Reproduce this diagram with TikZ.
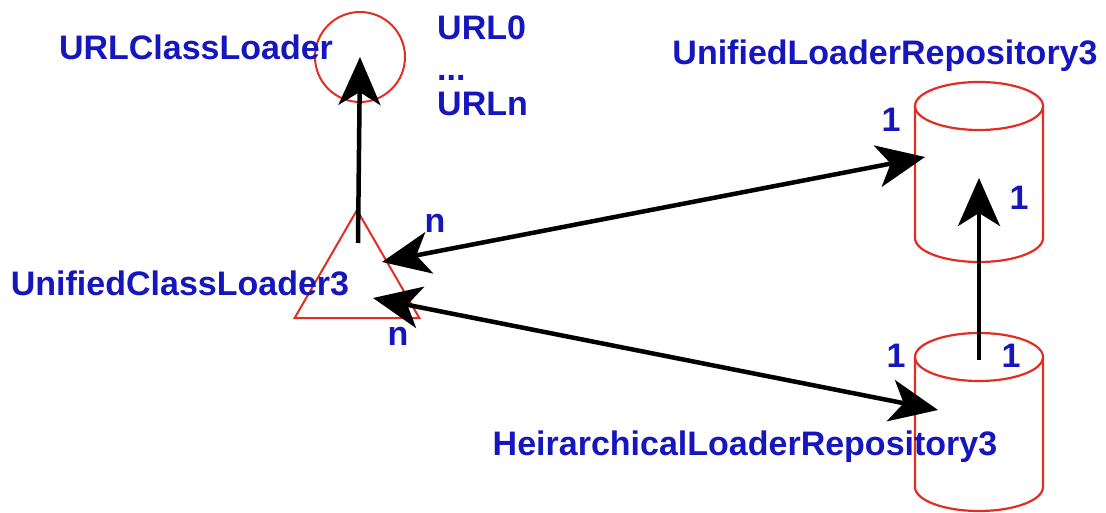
\documentclass[tikz,border=0pt]{standalone}
\usepackage{fontspec}
\setmainfont{Liberation Sans}
\usetikzlibrary{arrows.meta,shapes.geometric}
\definecolor{lblblue}{RGB}{22,22,190}
\definecolor{outred}{RGB}{225,45,35}
\tikzset{
  lbl/.style={text=lblblue,font=\fontsize{34}{37.5}\selectfont\bfseries,inner sep=0pt},
  outl/.style={draw=outred,line width=2pt},
  conn/.style={line width=4.5pt,-{Stealth[length=48pt,width=42pt,inset=13pt]}},
  dconn/.style={line width=4.5pt,{Stealth[length=48pt,width=42pt,inset=13pt]}-{Stealth[length=48pt,width=42pt,inset=13pt]}}
}
\begin{document}
\begin{tikzpicture}[x=1pt,y=1pt]
    \useasboundingbox (0,0) rectangle (1106,-513);
    % class loaders
    \node[outl,circle,inner sep=0pt,minimum size=90pt] (urlcl) at (360,-57) {};
    \node[outl,regular polygon,regular polygon sides=3,inner sep=0pt,minimum size=144pt] (ucl) at (357,-282) {};
    % repositories
    \draw[outred,line width=2.2pt] (915,-106) -- (915,-238) arc[start angle=180,end angle=360,x radius=64,y radius=24] -- (1043,-106);
    \draw[outred,line width=2.2pt] (979,-106) ellipse[x radius=64,y radius=24];
    \draw[outred,line width=2.2pt] (915,-357) -- (915,-487) arc[start angle=180,end angle=360,x radius=64,y radius=24] -- (1043,-357);
    \draw[outred,line width=2.2pt] (979,-357) ellipse[x radius=64,y radius=24];
    \coordinate (ucl-in) at (358,-243);
    \coordinate (ucl-a) at (382,-262);
    \coordinate (ucl-b) at (373,-298);
    \coordinate (ulr-a) at (925,-157);
    \coordinate (ulr-in) at (979,-178);
    \coordinate (hlr-a) at (938,-410);
    \coordinate (hlr-top) at (979,-360);
    % connectors
    \draw[conn] (ucl-in) -- (urlcl.center);
    \draw[dconn] (ucl-a) -- (ulr-a);
    \draw[dconn] (ucl-b) -- (hlr-a);
    \draw[conn] (hlr-top) -- (ulr-in);
    % labels
    \node[lbl,anchor=base] (t-urlcl) at (196,-60) {URLClassLoader};
    \node[lbl,anchor=base west] (t-url0) at (437,-40) {URL0};
    \node[lbl,anchor=base west] (t-dots) at (437,-81) {...};
    \node[lbl,anchor=base west] (t-urln) at (437,-116) {URLn};
    \node[lbl,anchor=base] (t-ucl) at (180,-295) {UnifiedClassLoader3};
    \node[lbl,anchor=base] (t-ulr) at (885,-65) {UnifiedLoaderRepository3};
    \node[lbl,anchor=base] (t-hlr) at (745,-455) {HeirarchicalLoaderRepository3};
    \node[lbl,anchor=base] (n-a) at (435,-233) {n};
    \node[lbl,anchor=base] (n-b) at (398,-345) {n};
    \node[lbl,anchor=base] (m-a) at (891,-132) {1};
    \node[lbl,anchor=base] (m-b) at (1019,-210) {1};
    \node[lbl,anchor=base] (m-c) at (896,-367) {1};
    \node[lbl,anchor=base] (m-d) at (1011,-367) {1};
\end{tikzpicture}
\end{document}
